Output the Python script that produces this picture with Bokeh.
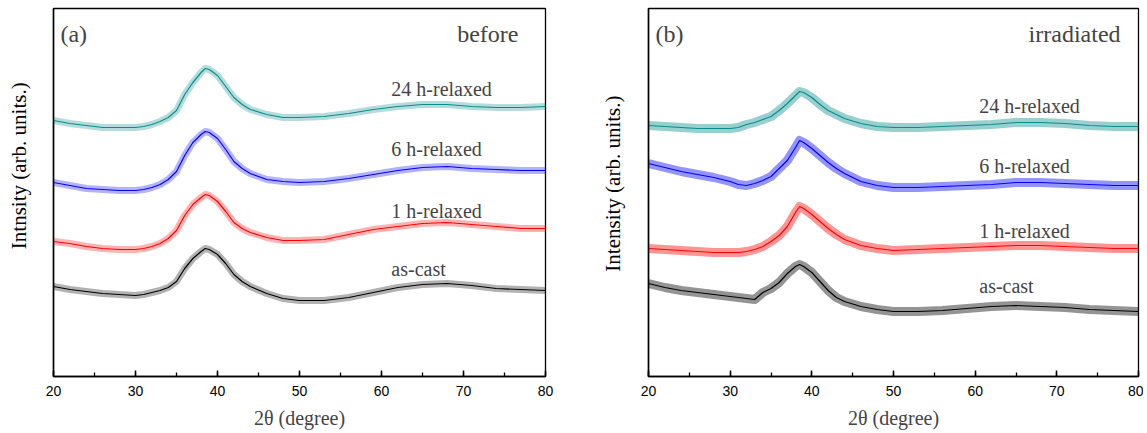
import math
from bokeh.plotting import figure
from bokeh.layouts import row
from bokeh.models import Range1d, SingleIntervalTicker, FixedTicker, Label
from bokeh.core.properties import value
from bokeh.embed import file_html
from bokeh.resources import INLINE

# ---------------- data (arbitrary intensity units) ----------------
two_theta = [20, 22, 24, 26, 28, 30, 31, 32, 33, 34, 35, 36, 37, 38, 38.5, 39, 40, 41, 42, 43,
             44, 46, 48, 50, 53, 56, 59, 62, 65, 68, 71, 74, 77, 80]

# (a) before irradiation
a_as_cast = [90, 87, 85, 83, 82, 81, 82, 84, 86, 89, 95, 108, 118, 125, 128, 127, 122, 113, 102, 95,
             90, 83, 78, 76, 76, 79, 84, 89, 92, 93, 91, 88, 87, 86]
a_1h = [135, 133, 130, 128, 127, 127, 128, 130, 133, 138, 146, 161, 172, 179, 182, 181, 175, 165, 154, 148,
        144, 139, 136, 136, 137, 142, 147, 150, 153, 154, 152, 150, 148, 148]
a_6h = [194, 191, 188, 187, 186, 186, 187, 189, 192, 197, 205, 221, 234, 242, 245, 244, 238, 227, 215, 208,
        203, 197, 195, 194, 195, 198, 202, 206, 209, 210, 208, 207, 206, 206]
a_24h = [256, 253, 251, 249, 249, 249, 250, 252, 255, 259, 266, 282, 294, 304, 308, 307, 301, 290, 279, 272,
         267, 262, 259, 259, 260, 263, 267, 270, 272, 272, 270, 269, 269, 270]

# (b) irradiated
b_as_cast = [93, 89, 86, 84, 82, 80, 79, 78, 77, 84, 88, 94, 103, 110, 112, 110, 104, 95, 86, 79,
             75, 70, 67, 65, 65, 66, 68, 70, 71, 70, 69, 67, 66, 65]
b_1h = [128, 127, 126, 125, 124, 124, 124, 125, 127, 130, 135, 141, 150, 164, 170, 168, 162, 155, 148, 142,
        137, 131, 128, 126, 127, 128, 129, 130, 131, 131, 130, 129, 128, 128]
b_6h = [213, 209, 205, 202, 199, 195, 192, 191, 193, 196, 200, 208, 216, 229, 236, 234, 228, 221, 214, 208,
        203, 195, 191, 189, 189, 190, 191, 192, 194, 194, 193, 192, 191, 191]
b_24h = [251, 250, 249, 248, 248, 248, 249, 252, 254, 257, 260, 266, 273, 281, 285, 284, 279, 272, 266, 262,
         258, 253, 250, 249, 249, 250, 251, 252, 254, 254, 253, 251, 250, 250]

series_names = ["as-cast", "1 h-relaxed", "6 h-relaxed", "24 h-relaxed"]
series_colors = ["#000000", "#ff0000", "#0000ff", "#0a8c8c"]
x_ticks_interval = 10

SERIF = "Liberation Serif"
SANS = "Liberation Sans"
H = 433


def title_strip(text, width, cx, cy):
    """Narrow blank figure that only carries the rotated y title."""
    s = figure(width=width, height=H, output_backend="svg", toolbar_location=None,
               x_range=Range1d(0, width), y_range=Range1d(0, H),
               x_axis_type=None, y_axis_type=None, min_border=0)
    s.grid.visible = False
    s.outline_line_color = None
    s.text(x=[cx], y=[H - cy], text=[text], angle=math.pi / 2,
           text_font=value(SERIF), text_font_size="21px", text_color="black",
           text_align="center", text_baseline="middle")
    return s


def make_panel(tag, state, series, width, left, right, name_x, name_y, band_w, band_alpha):
    p = figure(width=width, height=H, output_backend="svg", toolbar_location=None,
               x_range=Range1d(20, 80), y_range=Range1d(0, 368),
               min_border_left=left, min_border_right=right, min_border_top=8, min_border_bottom=57)
    p.grid.visible = False
    p.background_fill_color = "white"
    p.border_fill_color = "white"
    p.outline_line_color = "black"
    p.outline_line_width = 1.3

    for ys, c in zip(series, series_colors):
        p.line(two_theta, ys, line_color=c, line_width=band_w, line_alpha=band_alpha, line_join="round")
        p.line(two_theta, ys, line_color=c, line_width=1.2)

    xa = p.xaxis[0]
    xa.ticker = SingleIntervalTicker(interval=x_ticks_interval, num_minor_ticks=2)
    xa.major_tick_in = 6
    xa.major_tick_out = 0
    xa.minor_tick_in = 4
    xa.minor_tick_out = 0
    xa.axis_line_width = 1.5
    xa.major_tick_line_width = 1.5
    xa.minor_tick_line_width = 1.3
    xa.major_label_text_font = SANS
    xa.major_label_text_font_size = "14px"
    xa.major_label_text_color = "black"
    xa.major_label_standoff = 9
    xa.axis_label = "2θ (degree)"
    xa.axis_label_text_font = SERIF
    xa.axis_label_text_font_size = "20px"
    xa.axis_label_text_font_style = "normal"
    xa.axis_label_standoff = 8

    ya = p.yaxis[0]
    ya.ticker = FixedTicker(ticks=[])
    ya.major_tick_in = 0
    ya.major_tick_out = 0
    ya.minor_tick_in = 0
    ya.minor_tick_out = 0
    ya.axis_line_width = 1.5
    ya.major_label_standoff = 0

    p.add_layout(Label(x=20.85, y=343, text=tag, text_font=SERIF, text_font_size="24px",
                       text_baseline="middle", text_align="left"))
    p.add_layout(Label(x=name_x[1], y=343, text=state, text_font=SERIF, text_font_size="24px",
                       text_baseline="middle", text_align="right"))
    for nm, yy in zip(series_names, name_y):
        p.add_layout(Label(x=name_x[0], y=yy, text=nm, text_font=SERIF, text_font_size="20px",
                           text_baseline="middle", text_align="left"))
    return p


ta = title_strip("Intnsity (arb. units.)", 40, 18, 185)
pa = make_panel("(a)", "before", [a_as_cast, a_1h, a_6h, a_24h],
                556, 13, 51, (61.2, 76.7), [108, 166, 228, 288], 7, 0.3)
tb = title_strip("Intensity (arb. units.)", 40, 16, 206)
pb = make_panel("(b)", "irradiated", [b_as_cast, b_1h, b_6h, b_24h],
                507, 12, 5, (60.5, 77.8), [91, 146, 211, 271], 9, 0.42)

layout = row(ta, pa, tb, pb)
open("out.html", "w").write(file_html(layout, INLINE))
